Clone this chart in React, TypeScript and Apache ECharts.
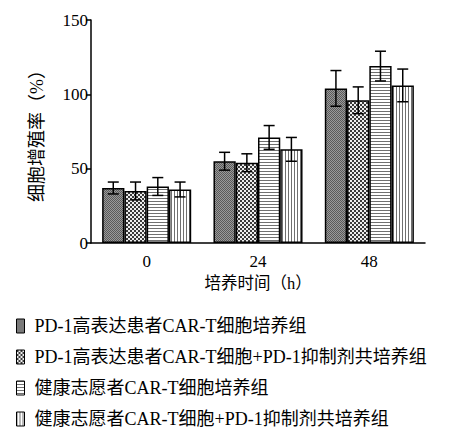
import React, { useEffect, useRef } from "react";
import * as echarts from "echarts";

const categories = ["0", "24", "48"];
const seriesNames = [
  "PD-1高表达患者CAR-T细胞培养组",
  "PD-1高表达患者CAR-T细胞+PD-1抑制剂共培养组",
  "健康志愿者CAR-T细胞培养组",
  "健康志愿者CAR-T细胞+PD-1抑制剂共培养组",
];
const values = [
  [37, 55, 104],
  [35, 54, 96],
  [38, 71, 119],
  [36, 63, 106],
];
const errors = [
  [4, 6, 12],
  [6, 6, 9],
  [6, 8, 10],
  [5, 8, 11],
];
const yTicks = { min: 0, max: 150, interval: 50 };

const FONT = "'Liberation Serif', 'Noto Sans CJK SC', serif";

function makePattern(kind: number): HTMLCanvasElement {
  const c = document.createElement("canvas");
  const size = kind === 0 ? 2 : kind === 1 ? 4 : 3;
  c.width = size;
  c.height = size;
  const ctx = c.getContext("2d")!;
  if (kind === 0) {
    ctx.fillStyle = "#9a9a9a";
    ctx.fillRect(0, 0, 2, 2);
    ctx.fillStyle = "#5a5a5a";
    ctx.fillRect(0, 0, 1, 1);
    ctx.fillRect(1, 1, 1, 1);
  } else if (kind === 1) {
    ctx.fillStyle = "#eeeeee";
    ctx.fillRect(0, 0, 4, 4);
    ctx.fillStyle = "#3a3a3a";
    ctx.fillRect(0, 0, 2, 2);
    ctx.fillRect(2, 2, 2, 2);
  } else if (kind === 2) {
    ctx.fillStyle = "#ffffff";
    ctx.fillRect(0, 0, 3, 3);
    ctx.fillStyle = "#707070";
    ctx.fillRect(0, 0, 3, 1);
  } else {
    ctx.fillStyle = "#ffffff";
    ctx.fillRect(0, 0, 3, 3);
    ctx.fillStyle = "#707070";
    ctx.fillRect(0, 0, 1, 3);
  }
  return c;
}

export default function App() {
  const ref = useRef<HTMLDivElement>(null);
  useEffect(() => {
    if (!ref.current) return;
    const chart = echarts.init(ref.current, null, { renderer: "svg" });
    const patterns = [0, 1, 2, 3].map((k) => ({
      image: makePattern(k),
      repeat: "repeat",
    }));
    const nSeries = seriesNames.length;
    const errData: number[][] = [];
    values.forEach((vals, s) => {
      vals.forEach((v, c) => {
        errData.push([c, v, errors[s][c], s]);
      });
    });
    const barSeries = seriesNames.map((name, i) => ({
      name,
      type: "bar",
      data: values[i],
      barGap: "0%",
      barCategoryGap: "20%",
      itemStyle: {
        color: patterns[i] as any,
        borderColor: "#000",
        borderWidth: 1.5,
      },
      z: 2,
    }));
    const option: any = {
      animation: false,
      grid: { left: 91, right: 31, top: 20, bottom: 187 },
      legend: {
        orient: "vertical",
        left: 11,
        top: 312,
        height: 118,
        itemWidth: 8,
        itemHeight: 14,
        itemGap: 13,
        icon: "rect",
        data: seriesNames,
        itemStyle: { borderColor: "#000", borderWidth: 1 },
        textStyle: {
          fontFamily: FONT,
          fontSize: 18,
          color: "#000",
          padding: [0, 0, 0, 5],
          lineHeight: 18,
        },
        selectedMode: false,
      },
      xAxis: {
        type: "category",
        data: categories,
        axisLine: { lineStyle: { color: "#000", width: 1.5 } },
        axisTick: { show: false },
        axisLabel: { fontFamily: FONT, fontSize: 17, color: "#000", margin: 10 },
        name: "培养时间（h）",
        nameLocation: "middle",
        nameGap: 32,
        nameTextStyle: { fontFamily: FONT, fontSize: 16.5, color: "#000" },
      },
      yAxis: {
        type: "value",
        min: yTicks.min,
        max: yTicks.max,
        interval: yTicks.interval,
        axisLine: { show: true, lineStyle: { color: "#000", width: 1.5 } },
        axisTick: { show: true, length: 5, lineStyle: { color: "#000", width: 1.5 } },
        axisLabel: { fontFamily: FONT, fontSize: 17, color: "#000", margin: 3 },
        splitLine: { show: false },
        name: "细胞增殖率（%）",
        nameLocation: "middle",
        nameGap: 45,
        nameTextStyle: { fontFamily: FONT, fontSize: 18, color: "#000" },
      },
      series: [
        ...barSeries,
        {
          type: "custom",
          data: errData,
          z: 5,
          silent: true,
          renderItem: (params: any, api: any) => {
            const c = api.value(0);
            const v = api.value(1);
            const e = api.value(2);
            const s = api.value(3);
            const band = api.size([1, 0])[0];
            const bw = (band * 0.8) / nSeries;
            const base = api.coord([c, v]);
            const x = base[0] + (s - (nSeries - 1) / 2) * bw;
            const yTop = api.coord([c, v + e])[1];
            const yBot = api.coord([c, v - e])[1];
            const cap = 5.5;
            const st = { stroke: "#000", lineWidth: 1.5 };
            return {
              type: "group",
              children: [
                { type: "line", shape: { x1: x, y1: yTop, x2: x, y2: yBot }, style: st },
                { type: "line", shape: { x1: x - cap, y1: yTop, x2: x + cap, y2: yTop }, style: st },
                { type: "line", shape: { x1: x - cap, y1: yBot, x2: x + cap, y2: yBot }, style: st },
              ],
            };
          },
        },
      ],
    };
    chart.setOption(option);
    return () => chart.dispose();
  }, []);
  return (
    <div
      ref={ref}
      style={{ position: "absolute", left: 0, top: 0, width: 456, height: 430 }}
    />
  );
}
